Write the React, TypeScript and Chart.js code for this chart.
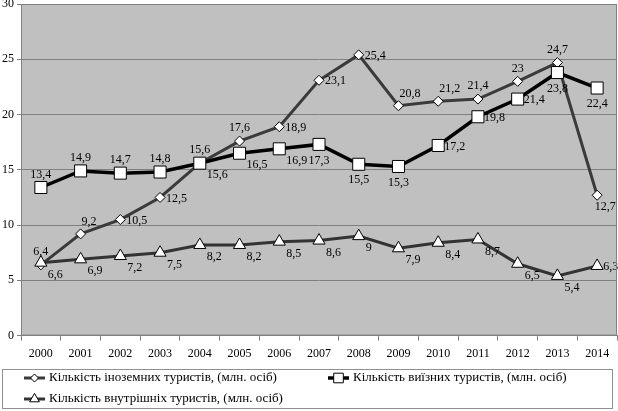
import { useEffect, useRef } from 'react';
import { Chart, registerables } from 'chart.js';
import { drawPoint } from 'chart.js/helpers';

Chart.register(...registerables);

const years = ['2000', '2001', '2002', '2003', '2004', '2005', '2006', '2007', '2008', '2009', '2010', '2011', '2012', '2013', '2014'];
const foreignTourists = [6.4, 9.2, 10.5, 12.5, 15.6, 17.6, 18.9, 23.1, 25.4, 20.8, 21.2, 21.4, 23, 24.7, 12.7];
const outboundTourists = [13.4, 14.9, 14.7, 14.8, 15.6, 16.5, 16.9, 17.3, 15.5, 15.3, 17.2, 19.8, 21.4, 23.8, 22.4];
const domesticTourists = [6.6, 6.9, 7.2, 7.5, 8.2, 8.2, 8.5, 8.6, 9, 7.9, 8.4, 8.7, 6.5, 5.4, 6.3];
const seriesNames = [
  'Кількість іноземних туристів, (млн. осіб)',
  'Кількість виїзних туристів, (млн. осіб)',
  'Кількість внутрішніх туристів, (млн. осіб)',
];

// where each value label sits relative to its point
const foreignLabelPos = ['a', 'ar', 'r', 'r', 'a', 'a', 'r', 'r', 'r', 'ar', 'ar', 'a', 'a', 'a', 'bn'];
const outboundLabelPos = ['a', 'a', 'a', 'a', 'br', 'br', 'br', 'b', 'b', 'b', 'r', 'r', 'r', 'b', 'b'];
const domesticLabelPos = ['br', 'br', 'br', 'br', 'br', 'br', 'br', 'br', 'br', 'br', 'br', 'br', 'br', 'br', 'r'];

const FONT = '"Liberation Serif", "DejaVu Serif", serif';

const placements: Record<string, { dx: number; dy: number; align: CanvasTextAlign }> = {
  a: { dx: 0, dy: -13, align: 'center' },
  ar: { dx: 1, dy: -12, align: 'left' },
  r: { dx: 6, dy: 1, align: 'left' },
  br: { dx: 7, dy: 12, align: 'left' },
  bn: { dx: 8, dy: 12, align: 'center' },
  b: { dx: 0, dy: 16, align: 'center' },
};

const plotBackground = {
  id: 'plotBackground',
  beforeDraw(chart: Chart) {
    const { ctx, chartArea } = chart;
    ctx.save();
    ctx.fillStyle = '#ffffff';
    ctx.fillRect(0, 0, chart.width, chart.height);
    ctx.fillStyle = '#c0c0c0';
    ctx.fillRect(chartArea.left, chartArea.top, chartArea.right - chartArea.left, chartArea.bottom - chartArea.top);
    ctx.restore();
  },
  afterDraw(chart: Chart) {
    const { ctx, chartArea } = chart;
    ctx.save();
    ctx.strokeStyle = '#808080';
    ctx.lineWidth = 1;
    ctx.strokeRect(chartArea.left + 0.5, chartArea.top + 0.5, chartArea.right - chartArea.left - 1, chartArea.bottom - chartArea.top - 1);
    ctx.restore();
  },
};

const valueLabels = {
  id: 'valueLabels',
  afterDatasetsDraw(chart: Chart) {
    const { ctx } = chart;
    const positions = [foreignLabelPos, outboundLabelPos, domesticLabelPos];
    ctx.save();
    ctx.font = `12px ${FONT}`;
    ctx.fillStyle = '#000';
    ctx.textBaseline = 'middle';
    chart.data.datasets.forEach((ds, i) => {
      const meta = chart.getDatasetMeta(i);
      meta.data.forEach((pt, j) => {
        const p = placements[positions[i][j]];
        const v = ds.data[j] as number;
        ctx.textAlign = p.align;
        ctx.fillText(String(v).replace('.', ','), pt.x + p.dx, pt.y + p.dy);
      });
    });
    ctx.restore();
  },
};

const boxLegend = {
  id: 'boxLegend',
  afterDraw(chart: Chart) {
    const { ctx } = chart;
    const colX = [24, 328];
    const rowY = [378, 399];
    ctx.save();
    ctx.strokeStyle = '#909090';
    ctx.lineWidth = 1;
    ctx.strokeRect(2.5, 369.5, 610, 39);
    ctx.font = `13px ${FONT}`;
    ctx.textBaseline = 'middle';
    ctx.textAlign = 'left';
    chart.data.datasets.forEach((ds: any, i) => {
      const x = colX[i % 2];
      const y = rowY[Math.floor(i / 2)];
      ctx.strokeStyle = ds.borderColor;
      ctx.lineWidth = ds.borderWidth;
      ctx.beginPath();
      ctx.moveTo(x, y);
      ctx.lineTo(x + 21, y);
      ctx.stroke();
      ctx.fillStyle = '#ffffff';
      ctx.strokeStyle = '#000000';
      ctx.lineWidth = 1;
      drawPoint(ctx, { pointStyle: ds.pointStyle, radius: ds.pointRadius * 0.8, rotation: 0, borderWidth: 1 }, x + 10.5, y);
      ctx.fillStyle = '#000';
      ctx.fillText(seriesNames[i], x + 25, y);
    });
    ctx.restore();
  },
};

export default function App() {
  const canvasRef = useRef<HTMLCanvasElement>(null);
  const chartRef = useRef<Chart | null>(null);

  useEffect(() => {
    if (!canvasRef.current) return;
    document.body.style.margin = '0';

    if (chartRef.current) {
      chartRef.current.destroy();
    }

    const pointCommon = {
      pointBackgroundColor: '#ffffff',
      pointBorderColor: '#000000',
      pointBorderWidth: 1,
      tension: 0,
    };

    chartRef.current = new Chart(canvasRef.current, {
      type: 'line',
      data: {
        labels: years,
        datasets: [
          {
            label: seriesNames[0],
            data: foreignTourists,
            borderColor: '#3a3a3a',
            borderWidth: 3,
            pointStyle: 'rectRot',
            pointRadius: 5,
            order: 2,
            ...pointCommon,
          },
          {
            label: seriesNames[1],
            data: outboundTourists,
            borderColor: '#000000',
            borderWidth: 3.5,
            pointStyle: 'rect',
            pointRadius: 8.5,
            order: 1,
            ...pointCommon,
          },
          {
            label: seriesNames[2],
            data: domesticTourists,
            borderColor: '#333333',
            borderWidth: 3,
            pointStyle: 'triangle',
            pointRadius: 7,
            order: 0,
            ...pointCommon,
          },
        ],
      },
      options: {
        responsive: true,
        maintainAspectRatio: false,
        animation: false,
        layout: { autoPadding: false, padding: { top: 0, right: 1, bottom: 44, left: 0 } },
        plugins: {
          legend: { display: false },
          tooltip: { enabled: false },
        },
        scales: {
          x: {
            offset: true,
            grid: {
              offset: true,
              drawOnChartArea: false,
              drawTicks: true,
              tickLength: 5,
              color: '#808080',
            },
            border: { color: '#808080' },
            ticks: {
              color: '#000',
              padding: 6,
              font: { size: 12, family: FONT },
            },
          },
          y: {
            min: 0,
            max: 30,
            afterFit: (scale) => {
              scale.width = 21;
            },
            grid: {
              color: '#808080',
              tickLength: 4,
            },
            border: { color: '#808080' },
            ticks: {
              stepSize: 5,
              color: '#000',
              padding: 3,
              font: { size: 12, family: FONT, lineHeight: 0.17 },
            },
          },
        },
      },
      plugins: [plotBackground, valueLabels, boxLegend],
    });

    return () => {
      if (chartRef.current) {
        chartRef.current.destroy();
        chartRef.current = null;
      }
    };
  }, []);

  return (
    <div style={{ width: 618, height: 411, position: 'relative' }}>
      <canvas ref={canvasRef} />
    </div>
  );
}
